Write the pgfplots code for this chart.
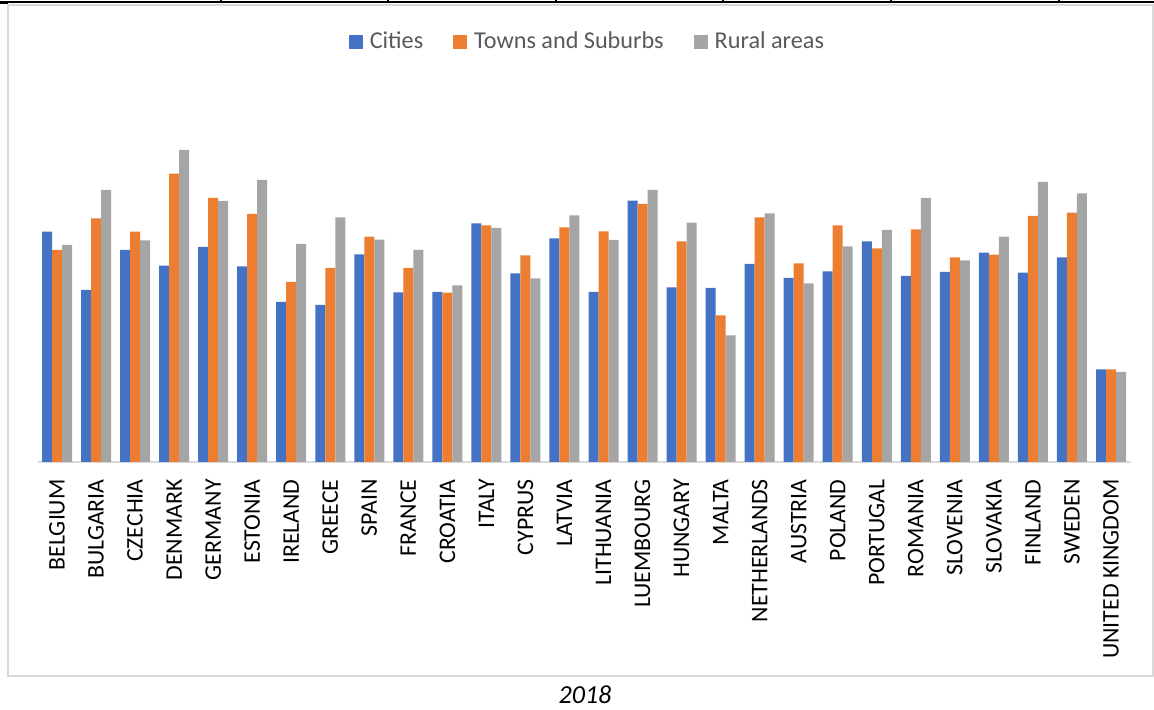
\documentclass[border=0pt]{standalone}
\usepackage{pgfplots}
\usepackage{pgfplotstable}
\pgfplotsset{compat=1.18}
\usepackage{fontspec}
\setmainfont{Carlito}
\definecolor{cblue}{HTML}{4472C4}
\definecolor{corange}{HTML}{ED7D31}
\definecolor{cgray}{HTML}{A5A5A5}
\definecolor{framegray}{HTML}{D9D9D9}
\definecolor{legtext}{HTML}{595959}

\pgfplotstableread{
idx c t r
0 230.3 212.0 217.0
1 172.0 243.7 272.0
2 212.0 230.3 221.7
3 196.3 288.3 312.0
4 215.0 264.0 261.0
5 195.7 248.0 282.0
6 160.0 180.0 218.0
7 157.0 194.0 244.7
8 207.7 225.3 222.3
9 169.7 194.0 212.0
10 170.0 169.3 176.7
11 238.7 236.7 234.0
12 188.7 206.7 183.7
13 223.7 234.7 246.7
14 170.0 230.7 222.0
15 261.3 258.0 272.0
16 174.7 220.7 239.3
17 174.0 146.7 126.7
18 198.0 244.7 248.7
19 184.0 198.7 178.7
20 190.7 236.7 215.7
21 220.7 213.7 232.0
22 186.0 232.7 264.0
23 190.0 204.7 201.7
24 209.3 207.3 225.3
25 189.3 246.0 280.0
26 204.7 249.3 268.7
27 92.7 92.7 90.0
}\datatable

\begin{document}
\begin{tikzpicture}
\useasboundingbox (0pt,0pt) rectangle (577pt,355pt);
% outer chart frame
\draw[framegray, line width=0.75pt] (4pt,352.5pt) rectangle (576.5pt,17pt);
% top border line (table edge)
\draw[black, line width=1pt] (0pt,353.75pt) -- (577pt,353.75pt);
\draw[black, line width=1.5pt] (0pt,353.5pt) -- (4pt,353.5pt);
\foreach \xx in {110.5,194,278,361.5,445.5,529.5} {\draw[black, line width=0.6pt] (\xx pt,355pt) -- (\xx pt,353.5pt);}
\begin{axis}[
  at={(18.75pt,124pt)}, anchor=south west,
  scale only axis, width=546.5pt, height=200pt,
  xmin=-0.5, xmax=27.5, ymin=0, ymax=400,
  axis y line=none,
  axis x line*=bottom,
  x axis line style={framegray, line width=1pt, -},
  xtick={0,...,27},
  major tick length=0pt,
  xticklabels={BELGIUM,BULGARIA,CZECHIA,DENMARK,GERMANY,ESTONIA,IRELAND,GREECE,SPAIN,FRANCE,CROATIA,ITALY,CYPRUS,LATVIA,LITHUANIA,LUEMBOURG,HUNGARY,MALTA,NETHERLANDS,AUSTRIA,POLAND,PORTUGAL,ROMANIA,SLOVENIA,SLOVAKIA,FINLAND,SWEDEN,UNITED KINGDOM},
  xticklabel style={rotate=90, anchor=east, inner sep=0pt, font=\fontsize{11.9}{13}\selectfont, text=black},
  xticklabel shift=8.5pt,
  ybar=0pt, bar width=5pt,
  legend columns=3,
  legend style={draw=none, fill=none, at={(0.504,1.05)}, anchor=center,
    font=\fontsize{12.1}{13}\selectfont, text=legtext,
    /tikz/every odd column/.append style={column sep=1.5pt},
    /tikz/every even column/.append style={column sep=13pt}},
  legend image code/.code={\fill[#1] (0pt,-3.5pt) rectangle (7pt,3.5pt);},
]
\addplot[fill=cblue, draw=none] table[x=idx, y=c] {\datatable};
\addplot[fill=corange, draw=none] table[x=idx, y=t] {\datatable};
\addplot[fill=cgray, draw=none] table[x=idx, y=r] {\datatable};
\legend{Cities, Towns and Suburbs, Rural areas}
\end{axis}
\node[font=\fontsize{13}{14}\selectfont\itshape, text=black] at (292.5pt,7.5pt) {2018};
\end{tikzpicture}
\end{document}
